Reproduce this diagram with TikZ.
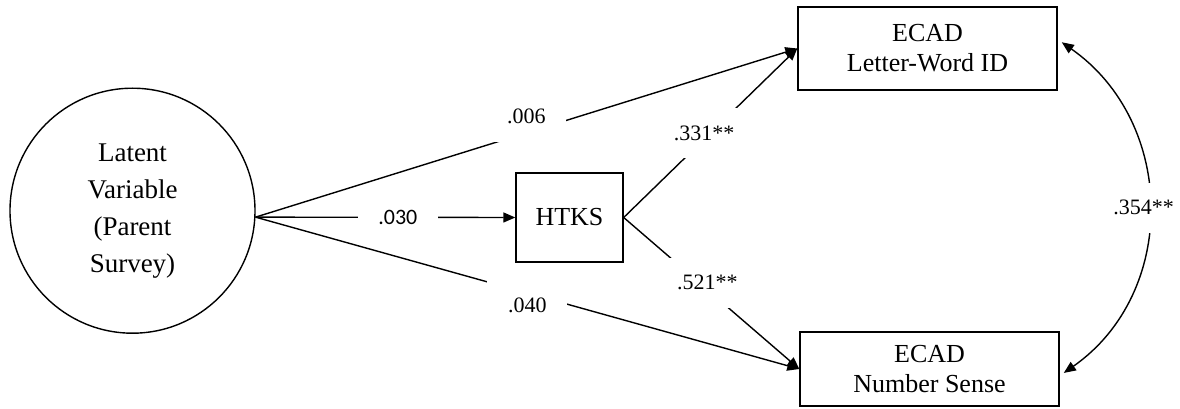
\documentclass[tikz,border=0pt]{standalone}
\usepackage{fontspec}
\setmainfont{Liberation Serif}
\newfontfamily\calfont{Carlito}
\usetikzlibrary{arrows.meta}

\begin{document}
\begin{tikzpicture}[x=0.5pt,y=0.5pt,line width=0.7pt,>={Triangle[length=6pt,width=5pt]},
	box/.style={draw,rectangle,align=center,inner sep=0pt,font=\fontsize{13}{15}\selectfont},
	coef/.style={fill=white,minimum width=40pt,minimum height=25pt,inner sep=0pt,font=\fontsize{11}{13}\selectfont}]
	\useasboundingbox (0,0) rectangle (1180,408);
	\node [draw,circle,minimum size=122.5pt,inner sep=0pt,align=center,font=\fontsize{13.5}{18.5}\selectfont] (L0) at (132.5,197.3) {Latent\\Variable\\(Parent\\Survey)};
	\node [box,minimum width=53.5pt,minimum height=44.5pt] (H0) at (569.5,190.5) {HTKS};
	\node [box,minimum width=129.5pt,minimum height=41.5pt] (E1) at (927.5,359.5) {ECAD\\Letter-Word ID};
	\node [box,minimum width=129.5pt,minimum height=37pt] (E2) at (929.5,39) {ECAD\\Number Sense};
	\draw
	(L0.-3) edge[->] node[coef,pos=0.5,yshift=8pt] {.006} (E1.west)
	(L0.-3) edge[->] node[coef,pos=0.548,font=\calfont\fontsize{11}{13}\selectfont] {.030} (H0.west)
	(L0.-3) edge[->] node[coef,pos=0.5,yshift=-6pt] {.040} (E2.west)
	(H0.east) edge[->] node[coef,pos=0.463,yshift=3pt] {.331**} (E1.west)
	(H0.east) edge[->] node[coef,pos=0.477,yshift=3.5pt] {.521**} (E2.west)
	(E1.4) edge[<->,shorten <=2.5pt,shorten >=2.5pt,out=-35,in=35,looseness=1.1] node[coef,pos=0.5,xshift=-2pt] {.354**} (E2.-3);
\end{tikzpicture}
\end{document}
